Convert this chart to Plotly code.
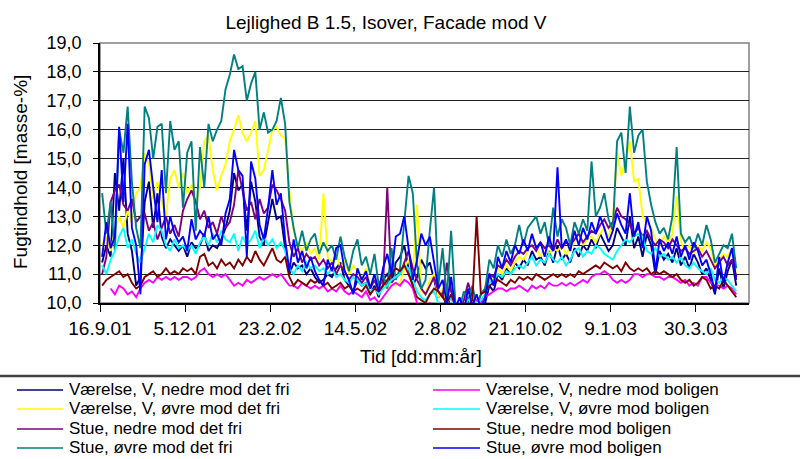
import pandas as pd
import plotly.graph_objects as go

# ---- data (4-day samples starting 18.9.2001) ----
start_date = "2001-09-18"
n_points = 150

navy_vals = [  # Værelse, V, nedre mod det fri
    11.4, 12.0, 11.6, 14.5, 13.2, 15.0, 12.4, 11.8, 10.6, 10.9,
    13.5, 14.2, 12.6, 13.8, 12.3, 11.9, 12.2, 12.0, 11.8, 12.0,
    11.6, 12.1, 11.9, 12.0, 12.4, 11.8, 12.0, 11.9, 12.2, 12.6,
    13.2, 14.5, 13.9, 14.1, 12.5, 14.2, 13.5, 12.3, 12.0, 12.8,
    13.6, 12.9, 13.0, 11.9, 11.0, 11.4, 11.2, 11.3, 11.0, 11.2,
    10.9, 10.7, 10.8, 11.0, 10.9, 11.2, 11.4, 10.8, 10.6, 10.4,
    10.8, 10.6, 10.7, 10.3, 10.6, 10.2, 10.8, 11.0, 10.7, 11.4,
    11.6, 12.0, 11.2, 10.6, 10.9, 11.5, 11.2, 11.4, 10.8, 10.2,
    10.4, 9.8, 10.3, 9.7, 9.9, 9.6, 10.1, 9.8, 10.0, 9.7,
    10.0, 10.6, 10.4, 11.0, 10.8, 11.2, 11.0, 11.4, 11.2, 11.5,
    11.3, 11.8, 11.5, 11.6, 11.3, 11.8, 11.4, 12.0, 11.5, 11.7,
    11.4, 11.9, 11.6, 12.0, 11.8, 12.2, 11.9, 12.4, 12.1, 11.8,
    12.0, 12.6, 12.3, 12.0, 13.0, 11.9, 12.3, 11.6, 12.4, 12.0,
    11.0, 11.8, 11.5, 11.7, 11.4, 11.9, 11.3, 11.6, 11.2, 11.7,
    11.4, 11.0, 11.2, 10.8, 10.3, 11.2, 10.5, 11.1, 11.5, 10.6,
]
yellow_vals = [  # Værelse, V, øvre mod det fri
    12.0, 12.3, 11.8, 12.5, 13.0, 12.6, 13.2, 12.8, 13.8, 14.0,
    15.2, 14.8, 13.6, 14.2, 13.5, 13.0, 14.3, 14.6, 14.0, 14.5,
    13.8, 14.1, 13.5, 14.0, 15.6, 15.8, 14.6, 13.9, 14.4, 14.8,
    15.6, 16.0, 16.5, 15.9, 15.6, 15.9, 16.3, 14.4, 14.6, 15.3,
    16.0, 16.1, 15.8, 15.7, 13.9, 12.5, 12.0, 11.8, 12.1, 11.7,
    11.9, 11.5, 13.8, 11.6, 11.4, 11.7, 11.2, 11.5, 11.0, 11.3,
    11.1, 10.8, 11.2, 10.6, 10.9, 10.4, 10.7, 10.5, 10.8, 10.6,
    10.7, 11.2, 11.5, 11.0, 13.4, 10.4, 10.3, 10.8, 11.0, 10.2,
    10.5, 10.0, 10.6, 9.8, 9.7, 10.0, 9.9, 10.2, 9.8, 10.1,
    10.3, 10.9, 10.8, 11.2, 11.0, 11.3, 11.1, 11.4, 11.6, 11.5,
    11.8, 12.3, 11.9, 11.6, 12.0, 11.7, 11.9, 11.8, 12.0, 11.7,
    11.9, 12.1, 12.5, 12.0, 12.2, 12.3, 12.1, 12.4, 12.6, 12.3,
    12.8, 15.2, 14.4, 15.0, 15.6, 14.2, 14.3, 13.0, 12.8, 12.6,
    12.2, 12.0, 12.3, 12.1, 12.4, 13.7, 12.1, 11.8, 12.0, 11.7,
    12.0, 11.8, 12.1, 11.9, 11.3, 11.5, 11.7, 11.6, 11.9, 11.0,
]
purple_vals = [  # Stue, nedre mod det fri
    11.0, 11.6, 13.5, 13.9, 14.1, 13.4, 13.2, 13.6, 12.8, 13.0,
    13.1, 12.5, 12.8, 12.2, 12.6, 13.0, 12.4, 12.7, 12.3, 13.2,
    13.6, 13.9, 13.5, 12.9, 13.2, 12.6, 12.8, 12.4, 13.0, 12.6,
    12.8, 13.4, 14.6, 13.9, 13.2, 13.5, 12.9, 13.6, 13.1, 13.3,
    14.1, 13.9, 13.6, 13.2, 12.1, 11.6, 11.9, 11.4, 11.7, 11.5,
    11.6, 11.3, 11.5, 11.2, 11.4, 11.0, 11.3, 11.1, 10.8, 11.0,
    10.9, 10.7, 10.9, 10.5, 10.8, 10.4, 10.6, 14.0, 10.7, 10.9,
    11.0, 11.4, 11.8, 11.2, 10.8, 10.5, 10.3, 10.6, 10.9, 10.4,
    10.2, 11.4, 10.4, 10.0, 9.8, 10.1, 10.7, 10.2, 9.9, 10.3,
    10.5, 11.0, 10.9, 11.3, 11.2, 11.5, 11.3, 11.6, 11.8, 11.7,
    11.9, 12.0, 11.8, 12.1, 11.9, 12.0, 11.8, 12.2, 11.9, 12.1,
    12.0, 12.2, 12.4, 12.1, 12.3, 12.5, 12.4, 12.7, 12.9, 12.6,
    12.8, 13.3, 13.0, 12.9, 12.7, 12.4, 12.6, 12.3, 12.5, 12.2,
    12.0, 12.2, 12.1, 11.9, 12.2, 12.0, 11.8, 11.9, 11.7, 11.8,
    11.9, 11.6, 11.8, 11.5, 11.2, 11.4, 11.6, 11.3, 11.5, 10.9,
]
teal_vals = [  # Stue, øvre mod det fri
    13.8, 12.4, 13.5, 11.8, 16.0, 15.2, 16.8, 14.2, 12.6, 11.9,
    16.8, 16.4, 15.0, 16.1, 16.2, 13.8, 16.3, 15.3, 15.6, 13.3,
    15.2, 15.6, 12.5, 15.4, 14.0, 16.2, 15.6, 16.0, 16.3, 17.4,
    17.9, 18.6, 18.1, 18.2, 17.0, 17.6, 18.0, 16.0, 16.6, 15.9,
    16.0, 16.3, 17.1, 16.2, 13.5, 12.6, 11.9, 12.5, 11.8, 12.2,
    12.4, 11.7, 12.1, 11.8, 12.0, 11.5, 12.3, 11.6, 11.1, 11.8,
    12.2, 11.3, 11.6, 11.0, 11.7, 10.6, 11.0, 10.5, 11.9, 10.8,
    11.2, 12.8, 14.4, 13.8, 11.3, 10.5, 10.8, 12.5, 14.0, 10.6,
    11.9, 10.2, 12.5, 10.0, 9.8, 10.4, 10.1, 10.6, 9.9, 10.3,
    10.5, 11.5, 11.2, 12.0, 11.6, 12.2, 11.7, 12.0, 12.7, 12.0,
    12.6, 12.8, 13.0, 12.4, 12.8, 12.0, 13.3, 12.3, 12.9, 12.6,
    12.0, 12.8, 12.4, 12.9, 12.5, 14.9, 13.0, 13.3, 13.8, 12.9,
    12.5, 15.6, 15.9, 14.5, 16.8, 15.2, 15.8, 16.0, 14.2, 13.4,
    12.8, 12.4, 12.6, 12.2, 13.0, 15.4, 12.4, 12.1, 12.3, 11.9,
    12.4, 12.0, 12.7, 12.2, 11.4, 11.7, 12.0, 11.9, 12.4, 11.2,
]
magenta_vals = [  # Værelse, V, nedre mod boligen
    None, None, 10.5, 10.3, 10.6, 10.5, 10.3, 10.4, 10.2, 10.5,
    10.7, 10.8, 10.7, 10.9, 10.8, 10.9, 10.8, 10.9, 10.8, 10.9,
    10.9, 10.8, 10.9, 11.1, 11.2, 11.0, 10.9, 11.0, 10.9, 11.0,
    10.8, 10.6, 10.7, 10.6, 10.8, 10.7, 10.8, 10.9, 10.8, 10.9,
    11.0, 10.9, 11.0, 10.8, 10.6, 10.6, 10.5, 10.7, 10.6, 10.5,
    10.6, 10.5, 10.6, 10.4, 10.5, 10.4, 10.6, 10.4, 10.3, 10.4,
    10.3, 10.2, 10.4, 10.1, 10.2, 10.0, 10.2, 10.4, 10.6, 10.7,
    10.6, 10.8, 10.7, 10.5, 10.0, 9.9, 9.8, 10.0, 9.9, 9.8,
    9.7, 9.8, 9.9, 9.7, 9.6, 9.8, 9.7, 9.9, 10.1, 10.0,
    10.2, 10.3, 10.4, 10.5, 10.5, 10.4, 10.5, 10.5, 10.6, 10.5,
    10.4, 10.6, 10.5, 10.6, 10.5, 10.7, 10.6, 10.6, 10.7, 10.6,
    10.7, 10.6, 10.7, 10.8, 10.7, 10.9, 11.0, 11.0, 11.1, 11.0,
    10.8, 10.7, 10.8, 10.7, 10.8, 11.0, 11.0, 10.9, 11.0, 11.0,
    10.9, 10.9, 10.8, 10.9, 10.9, 10.8, 10.7, 10.8, 10.6, 10.7,
    10.6, 10.9, 10.9, 10.7, 10.6, 10.6, 10.5, 10.6, 10.5, 10.3,
]
cyan_vals = [  # Værelse, V, øvre mod boligen
    11.3, 11.0, 11.5, 11.8, 12.3, 12.6, 11.9, 12.2, 11.7, 11.4,
    11.9, 12.4, 12.1, 12.7, 12.5, 12.0, 11.8, 12.2, 11.9, 12.0,
    11.8, 12.0, 11.7, 12.1, 12.3, 12.0, 12.4, 12.1, 12.5, 12.2,
    12.1, 12.4, 11.8, 12.3, 12.0, 12.2, 12.5, 11.9, 12.3, 12.0,
    12.2, 11.9, 12.1, 11.8, 11.2, 11.0, 11.3, 11.1, 11.4, 11.2,
    11.3, 11.1, 11.2, 11.0, 11.2, 10.9, 11.0, 10.8, 10.7, 10.9,
    10.8, 10.6, 10.7, 10.4, 10.5, 10.3, 10.5, 10.6, 10.8, 10.9,
    11.0, 11.3, 11.2, 10.8, 10.4, 10.2, 10.1, 10.3, 10.4, 10.0,
    9.9, 10.0, 10.2, 9.8, 9.7, 9.9, 10.1, 10.2, 10.0, 10.1,
    10.3, 10.7, 10.8, 11.0, 10.9, 11.1, 11.0, 11.2, 11.3, 11.2,
    11.4, 11.6, 11.3, 11.5, 11.4, 11.7, 11.5, 11.4, 11.6, 11.3,
    11.5, 11.8, 11.9, 11.6, 11.8, 11.7, 12.0, 11.9, 11.7, 11.6,
    11.5, 11.8, 12.0, 12.2, 12.1, 12.3, 12.4, 12.3, 11.8, 11.7,
    11.9, 11.6, 11.7, 11.5, 11.6, 11.4, 11.6, 11.3, 11.2, 11.4,
    11.2, 11.1, 11.0, 11.2, 10.8, 10.7, 10.9, 10.8, 10.6, 10.4,
]
maroon_vals = [  # Stue, nedre mod boligen
    10.6, 10.8, 10.9, 11.0, 11.1, 10.9, 11.0, 10.7, 10.5, 10.6,
    10.9, 11.0, 11.1, 10.9, 11.0, 11.2, 11.0, 11.1, 11.0, 11.2,
    11.1, 11.2, 11.0, 11.6, 11.7, 11.3, 11.4, 11.2, 11.5, 11.3,
    11.4, 11.2, 11.5, 11.3, 11.6, 11.4, 11.8, 11.5, 11.3, 11.6,
    11.9, 11.5, 11.4, 11.6, 10.9, 10.6, 10.8, 10.7, 10.6, 10.8,
    10.7, 10.8, 10.6, 10.7, 10.5, 10.6, 10.7, 10.5, 10.6, 10.4,
    10.5, 10.4, 10.6, 10.3, 10.5, 10.4, 10.6, 10.8, 11.0, 11.2,
    11.1, 11.3, 11.0, 10.6, 10.2, 10.1, 10.0, 10.3, 10.5, 10.4,
    10.2, 10.0, 10.3, 9.9, 9.8, 10.0, 9.9, 10.1, 13.0, 10.3,
    10.4, 10.6, 10.7, 10.8, 10.7, 10.6, 10.8, 10.7, 10.9, 10.8,
    10.9, 10.8, 11.0, 10.9, 10.8, 10.9, 11.0, 10.9, 11.0, 10.9,
    11.0, 10.9, 11.1, 11.0, 11.1, 11.2, 11.3, 11.2, 11.4, 11.3,
    11.2, 11.3, 11.1, 11.4, 11.2, 11.1, 11.2, 11.1, 11.2, 11.0,
    11.1, 11.0, 11.1, 11.0, 10.9, 11.0, 10.8, 10.7, 10.8, 10.6,
    10.7, 10.9, 10.8, 10.5, 10.6, 10.5, 10.8, 10.6, 10.4, 10.2,
]
blue_vals = [  # Stue, øvre mod boligen
    11.6, 12.8, 11.9, 12.3, 16.1, 13.5, 16.2, 12.6, 12.0, 10.3,
    14.8, 15.3, 14.0, 12.8, 14.6, 12.2, 13.0, 12.4, 12.1, 12.3,
    11.8, 12.9, 12.2, 12.5, 12.3, 13.0, 12.2, 12.4, 12.0, 13.1,
    13.6, 15.3, 14.6, 14.4, 11.6, 14.9, 14.3, 12.7, 12.2, 13.3,
    14.6, 13.4, 13.8, 12.2, 11.1, 12.2, 11.4, 11.8, 11.2, 11.6,
    11.1, 10.8, 10.6, 11.5, 11.1, 11.9, 12.0, 11.1, 10.8, 10.3,
    11.2, 10.8, 11.1, 10.5, 11.0, 10.4, 11.2, 11.7, 11.0, 12.3,
    12.4, 13.0, 11.9, 10.8, 11.5, 12.4, 12.0, 12.3, 11.4, 10.5,
    10.8, 10.0, 10.9, 9.8, 10.2, 9.7, 10.5, 9.9, 10.3, 9.8,
    10.2, 11.0, 10.6, 11.6, 11.2, 11.8, 11.4, 12.0, 11.7, 12.2,
    11.8, 12.4, 11.9, 12.1, 11.6, 12.3, 11.8, 14.7, 11.9, 12.2,
    11.8, 12.5, 12.0, 12.6, 12.2, 12.8, 12.4, 13.0, 12.6, 12.1,
    12.5, 13.1, 12.7, 12.4, 13.8, 12.3, 12.8, 11.9, 13.0, 12.5,
    11.1, 12.2, 11.8, 12.1, 11.7, 12.3, 11.6, 12.0, 11.5, 12.1,
    11.8, 11.3, 11.5, 11.0, 10.4, 11.6, 10.7, 11.4, 11.9, 10.8,
]

series_names = [
    "Værelse, V, nedre mod det fri",
    "Værelse, V, øvre mod det fri",
    "Stue, nedre mod det fri",
    "Stue, øvre mod det fri",
    "Værelse, V, nedre mod boligen",
    "Værelse, V, øvre mod boligen",
    "Stue, nedre mod boligen",
    "Stue, øvre mod boligen",
]
series_values = [navy_vals, yellow_vals, purple_vals, teal_vals,
                 magenta_vals, cyan_vals, maroon_vals, blue_vals]
series_colors = ["#000080", "#FFFF00", "#800080", "#008080",
                 "#FF00FF", "#00FFFF", "#800000", "#0000FF"]

dates = pd.date_range(start_date, periods=n_points, freq="4D").strftime("%Y-%m-%d").tolist()

FONT = "Liberation Sans, Arial, sans-serif"

fig = go.Figure()
for name, vals, col in zip(series_names, series_values, series_colors):
    fig.add_trace(go.Scatter(x=dates, y=vals, mode="lines", name=name,
                             line=dict(color=col, width=1.9), showlegend=False))

# plot area geometry in pixels
L, R, T, B = 100, 749, 43, 303
W, H = R - L, B - T

def px(x):
    return (x - L) / W

def py(y):
    return (B - y) / H

shapes = [
    dict(type="rect", xref="paper", yref="paper", x0=0, y0=0, x1=1, y1=1,
         line=dict(color="#808080", width=1.5), layer="below"),
    dict(type="line", xref="paper", yref="paper", x0=px(-20), x1=px(820),
         y0=py(376), y1=py(376), line=dict(color="#404040", width=2.5)),
]
annotations = [
    dict(text="Fugtindhold [masse-%]", xref="paper", yref="paper",
         x=px(20), y=py(172), textangle=-90, showarrow=False,
         xanchor="center", yanchor="middle",
         font=dict(family=FONT, size=19, color="black")),
    dict(text="Tid [dd:mm:år]", xref="paper", yref="paper",
         x=px(421), y=py(356), showarrow=False, xanchor="center", yanchor="middle",
         font=dict(family=FONT, size=19, color="black")),
]

# custom two-column legend
row_y = [389, 408, 428, 447]
for k, (name, col) in enumerate(zip(series_names, series_colors)):
    colm, row = divmod(k, 4)
    lx0, lx1, tx = (17, 63, 68) if colm == 0 else (433, 480, 485)
    y = row_y[row]
    shapes.append(dict(type="line", xref="paper", yref="paper",
                       x0=px(lx0), x1=px(lx1), y0=py(y + 1), y1=py(y + 1),
                       line=dict(color=col, width=1.5)))
    annotations.append(dict(text=name, xref="paper", yref="paper", x=px(tx), y=py(y),
                            xanchor="left", yanchor="middle", showarrow=False,
                            borderpad=0,
                            font=dict(family=FONT, size=17, color="black")))

fig.update_layout(
    width=800, height=459,
    margin=dict(l=L, r=800 - R, t=T, b=459 - B),
    paper_bgcolor="white", plot_bgcolor="white",
    separators=",.",
    font=dict(family=FONT, color="black"),
    title=dict(text="Lejlighed B 1.5, Isover, Facade mod V", xref="container",
               yref="container", x=386 / 800, y=1 - 22 / 459,
               xanchor="center", yanchor="middle",
               font=dict(family=FONT, size=19, color="black")),
    xaxis=dict(type="date", range=["2001-09-16", "2003-05-19"],
               tick0="2001-09-16", dtick=80 * 86400000, tickformat="%-d.%-m.%y",
               showgrid=False, zeroline=False, showline=True, linecolor="black",
               linewidth=1.5, ticks="outside", ticklen=7, tickcolor="black",
               tickfont=dict(family=FONT, size=19, color="black")),
    yaxis=dict(range=[10, 19], dtick=1, tickformat=".1f",
               showgrid=True, gridcolor="#222222", gridwidth=1.2, zeroline=False,
               showline=True, linecolor="black", linewidth=1.5,
               ticks="outside", ticklen=5, tickcolor="black", ticklabelstandoff=8,
               tickfont=dict(family=FONT, size=18, color="black")),
    shapes=shapes, annotations=annotations,
)

fig.write_html("out.html")
